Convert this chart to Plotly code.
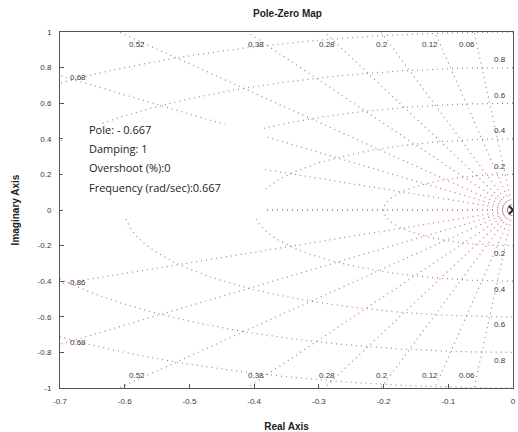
import numpy as np
import plotly.graph_objects as go

# ---- data ----
damping_values = [0.06, 0.12, 0.2, 0.28, 0.38, 0.52, 0.68, 0.86]
damping_labels = ["0.06", "0.12", "0.2", "0.28", "0.38", "0.52", "0.68", "0.86"]
freq_values = [0.2, 0.4, 0.6, 0.8, 1.0]
freq_labels = ["0.2", "0.4", "0.6", "0.8", "1"]
pole_real = [0.0, -0.667]
pole_imag = [0.0, 0.0]
x_ticks = [-0.7, -0.6, -0.5, -0.4, -0.3, -0.2, -0.1, 0]
x_tick_labels = ["-0.7", "-0.6", "-0.5", "-0.4", "-0.3", "-0.2", "-0.1", "0"]
y_ticks = [-1, -0.8, -0.6, -0.4, -0.2, 0, 0.2, 0.4, 0.6, 0.8, 1]
y_tick_labels = ["-1", "-0.8", "-0.6", "-0.4", "-0.2", "0", "0.2", "0.4", "0.6", "0.8", "1"]
datatip_lines = ["Pole: - 0.667", "Damping: 1", "Overshoot (%):0", "Frequency (rad/sec):0.667"]

XMIN, XMAX, YMIN, YMAX = -0.7, 0.0, -1.0, 1.0
GRID = "rgba(175,85,85,0.8)"
DASH = "1px,4px"
TXT = "#3a3a3a"
TIP_BOX = (-0.7, -0.385, -0.045, 0.48)  # region hidden by the data tip

fig = go.Figure()

# damping rays (including real axis, zeta = 1)
for z in damping_values + [1.0]:
    th = np.arccos(z)
    t = np.linspace(0, 1.6, 200)
    for s in (1, -1):
        fig.add_trace(go.Scatter(x=-t * np.cos(th), y=s * t * np.sin(th), mode="lines",
                                 line=dict(color=GRID, width=1.2, dash=DASH),
                                 hoverinfo="skip", showlegend=False))

# natural frequency semicircles
for w in freq_values:
    ang = np.linspace(np.pi / 2, 3 * np.pi / 2, 300)
    fig.add_trace(go.Scatter(x=w * np.cos(ang), y=w * np.sin(ang), mode="lines",
                             line=dict(color=GRID, width=1.2, dash=DASH),
                             hoverinfo="skip", showlegend=False))

# poles
fig.add_trace(go.Scatter(x=pole_real, y=pole_imag, mode="markers",
                         marker=dict(symbol="x-thin", size=8, line=dict(color="#2a2a3a", width=2)),
                         hoverinfo="skip", showlegend=False))


def hidden(x, y):
    return TIP_BOX[0] <= x <= TIP_BOX[1] and TIP_BOX[2] <= y <= TIP_BOX[3]


ann = []
# damping labels
for z, lab in zip(damping_values, damping_labels):
    tn = np.tan(np.arccos(z))
    if tn * abs(XMIN) > 0.93:
        yy = 0.93
        xx = -yy / tn
        for s in (1, -1):
            ann.append(dict(x=xx, y=s * yy, text=lab, showarrow=False, xanchor="right",
                            font=dict(size=8, color=TXT)))
    else:
        xx = XMIN + 0.012
        yy = abs(xx) * tn
        for s in (1, -1):
            if hidden(xx, s * yy):
                continue
            ann.append(dict(x=xx, y=s * yy, text=lab, showarrow=False, xanchor="left",
                            font=dict(size=8, color=TXT)))
# frequency labels
for w, lab in zip(freq_values, freq_labels):
    if w < YMAX - 0.05:
        for s in (1, -1):
            ann.append(dict(x=-0.007, y=s * (w + 0.045), text=lab, showarrow=False,
                            xanchor="right", font=dict(size=8, color=TXT)))

# datatip text
for i, line in enumerate(datatip_lines):
    ann.append(dict(x=-0.658, y=0.45 - i * 0.107, text=line, showarrow=False,
                    xanchor="left", yanchor="middle", font=dict(size=11, color="#222222",
                                                               family="Open Sans")))

fig.update_layout(
    width=518, height=432,
    margin=dict(l=60, r=5, t=32, b=44),
    paper_bgcolor="white", plot_bgcolor="white",
    font=dict(family="Liberation Sans, Arial", color=TXT),
    title=dict(text="<b>Pole-Zero Map</b>", x=0.555, xanchor="center", y=0.968, yanchor="middle",
               font=dict(size=10, color="#222222")),
    annotations=ann,
    hovermode=False,
    shapes=[dict(type="rect", xref="x", yref="y", x0=TIP_BOX[0] + 0.004, x1=TIP_BOX[1],
                 y0=TIP_BOX[2], y1=TIP_BOX[3],
                 fillcolor="white", line=dict(width=0), layer="above")],
)
fig.update_xaxes(range=[XMIN, XMAX], tickvals=x_ticks, ticktext=x_tick_labels, automargin=False,
                 showgrid=False, zeroline=False, showline=True, mirror=True,
                 linecolor="#555555", linewidth=1, ticks="inside", ticklen=4,
                 tickcolor="#555555", tickfont=dict(size=8, color=TXT), ticklabelstandoff=5,
                 title=dict(text="<b>Real Axis</b>", font=dict(size=10, color="#222222"), standoff=18))
fig.update_yaxes(range=[YMIN, YMAX], tickvals=y_ticks, ticktext=y_tick_labels, automargin=False,
                 showgrid=False, zeroline=False, showline=True, mirror=True,
                 linecolor="#555555", linewidth=1, ticks="inside", ticklen=4,
                 tickcolor="#555555", tickfont=dict(size=8, color=TXT), ticklabelstandoff=6,
                 title=dict(text="<b>Imaginary Axis</b>", font=dict(size=10, color="#222222"), standoff=16))

fig.write_html("out.html", config={"displayModeBar": False},
               post_script="document.body.style.margin='0px';")
